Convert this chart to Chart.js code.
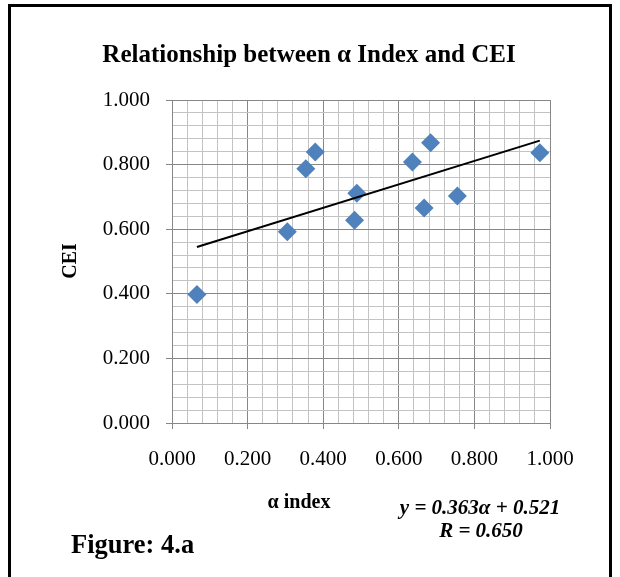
<!DOCTYPE html>
<html>
<head>
<meta charset="utf-8">
<script src="https://cdn.jsdelivr.net/npm/chart.js@4/dist/chart.umd.min.js"></script>
<style>
  html, body { margin: 0; padding: 0; background: #fff; }
  #wrap { position: relative; width: 620px; height: 577px; overflow: hidden; }
  #frame { position: absolute; left: 8px; top: 4px; width: 604px; height: 620px; border: 3px solid #000; box-sizing: border-box; }
  canvas { position: absolute; left: 0; top: 0; }
</style>
</head>
<body>
<div id="wrap">
  <div id="frame"></div>
  <canvas id="chart" width="620" height="577"></canvas>
</div>
<script>
// values
const alphaIndex = [0.066, 0.305, 0.354, 0.379, 0.483, 0.489, 0.636, 0.667, 0.684, 0.755, 0.973]
const cei        = [0.398, 0.592, 0.787, 0.839, 0.628, 0.711, 0.808, 0.666, 0.868, 0.703, 0.837]

// fitted line as printed on the chart
const trendSlope = 0.363
const trendIntercept = 0.521

const chartTitle = 'Relationship between α Index and CEI'
const xTitle = 'α index'
const yTitle = 'CEI'
const eqLines = ['y = 0.363α + 0.521', 'R = 0.650']
const figureLabel = 'Figure: 4.a'

const serif = '"Liberation Serif", "Times New Roman", serif'
const MAJOR = '#878787'
const MINOR = '#c3c3c3'

const isMajor = (v) => Math.abs(v / 0.2 - Math.round(v / 0.2)) < 1e-6

let xMin = Math.min(...alphaIndex)
let xMax = Math.max(...alphaIndex)
let trendPoints = [
  { x: xMin, y: trendSlope * xMin + trendIntercept },
  { x: xMax, y: trendSlope * xMax + trendIntercept }
]
let scatterPoints = alphaIndex.map((a, i) => ({ x: a, y: cei[i] }))

// draws the title, axis titles and notes
const textPlugin = {
  id: 'texts',
  afterDraw(chart) {
    const ctx = chart.ctx
    ctx.save()
    ctx.fillStyle = '#000'
    ctx.textBaseline = 'alphabetic'
    ctx.textAlign = 'center'

    ctx.font = 'bold 25px ' + serif
    ctx.fillText(chartTitle, 309, 62)

    ctx.font = 'bold 20px ' + serif
    ctx.fillText(xTitle, 299, 508)

    ctx.save()
    ctx.translate(76, 261)
    ctx.rotate(-Math.PI / 2)
    ctx.fillText(yTitle, 0, 0)
    ctx.restore()

    ctx.font = 'italic bold 21px ' + serif
    ctx.fillText(eqLines[0], 480, 514)
    ctx.fillText(eqLines[1], 481, 537)

    ctx.textAlign = 'left'
    ctx.font = 'bold 26.5px ' + serif
    ctx.fillText(figureLabel, 71, 553)
    ctx.restore()
  }
}

const gridOpts = {
  color: (c) => (c.tick && isMajor(c.tick.value)) ? MAJOR : MINOR,
  tickColor: (c) => (c.tick && isMajor(c.tick.value)) ? MAJOR : 'rgba(0,0,0,0)',
  tickLength: 6,
  lineWidth: 1
}

new Chart(document.getElementById('chart'), {
  type: 'scatter',
  data: {
    datasets: [
      {
        type: 'line',
        label: 'trend',
        data: trendPoints,
        borderColor: '#000',
        borderWidth: 2,
        pointRadius: 0,
        fill: false,
        order: 0
      },
      {
        label: 'CEI',
        data: scatterPoints,
        pointStyle: 'rectRot',
        pointRadius: 9.5,
        pointHoverRadius: 9.5,
        backgroundColor: '#4F81BD',
        borderColor: '#4F81BD',
        borderWidth: 0,
        order: 1
      }
    ]
  },
  options: {
    responsive: false,
    animation: false,
    events: [],
    layout: { padding: { top: 100, right: 70, left: 0, bottom: 0 } },
    plugins: {
      legend: { display: false },
      title: { display: false },
      tooltip: { enabled: false }
    },
    scales: {
      x: {
        type: 'linear',
        min: 0,
        max: 1,
        grid: gridOpts,
        border: { color: MAJOR, width: 1 },
        ticks: {
          stepSize: 0.04,
          autoSkip: false,
          maxRotation: 0,
          padding: 18,
          color: '#000',
          font: { family: serif, size: 21 },
          callback: (v) => isMajor(v) ? v.toFixed(3) : ''
        },
        afterFit: (s) => { s.height = 154 }
      },
      y: {
        type: 'linear',
        min: 0,
        max: 1,
        grid: gridOpts,
        border: { color: MAJOR, width: 1 },
        ticks: {
          stepSize: 0.04,
          autoSkip: false,
          padding: 16,
          color: '#000',
          font: { family: serif, size: 21 },
          callback: (v) => isMajor(v) ? v.toFixed(3) : ''
        },
        afterFit: (s) => { s.width = 172 }
      }
    }
  },
  plugins: [textPlugin]
})
</script>
</body>
</html>
